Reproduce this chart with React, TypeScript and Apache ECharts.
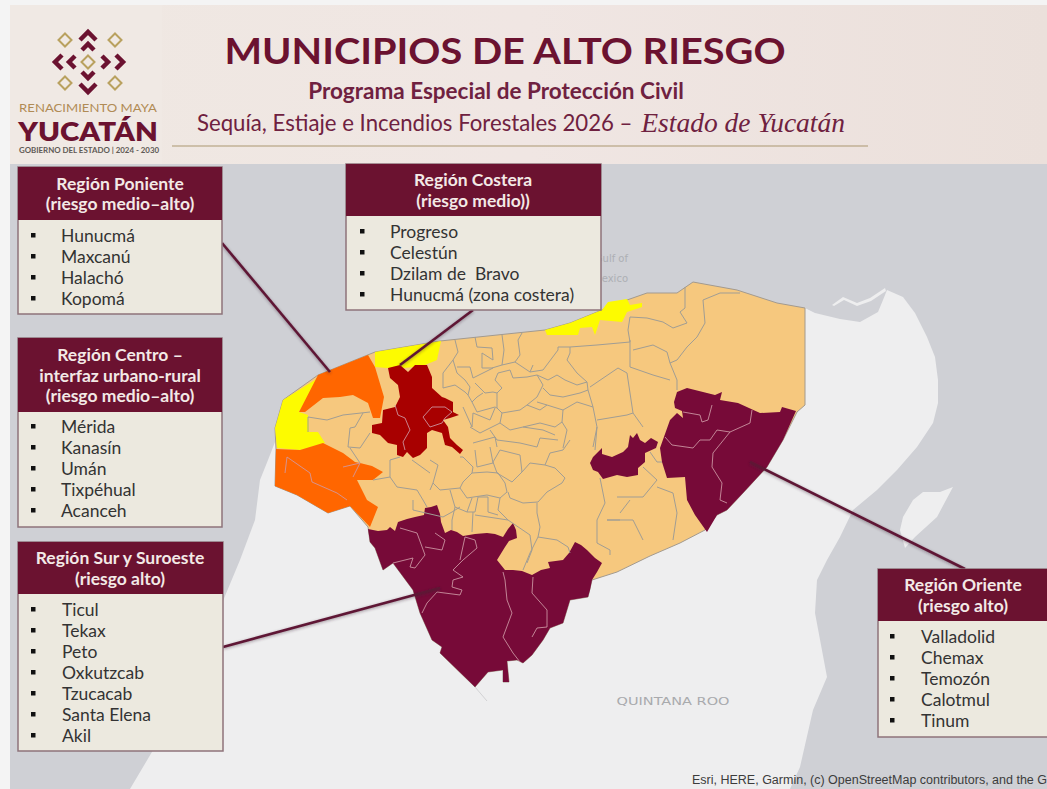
import React, { useEffect, useRef } from "react";
import * as echarts from "echarts";

type Pt = [number, number];

const waterShape: Pt[] = [[10,164],[1047,164],[1047,789],[10,789]];
const landShape: Pt[] = [[277,437],[268,460],[260,480],[255,520],[240,560],[215,620],[190,680],[165,730],[130,789],[790,789],[800,767],[813,710],[827,677],[815,613],[817,580],[827,560],[840,537],[853,510],[877,490],[897,470],[917,447],[933,423],[938,403],[938,380],[935,357],[927,337],[915,313],[903,297],[887,290],[883,300],[878,312],[860,322],[840,319],[815,313],[805,308],[640,420],[400,500]];
const spitShape: Pt[] = [[832,305],[843,297],[857,303],[870,298],[885,288],[886,291],[871,301],[857,306],[844,300],[834,306]];
const islandShape: Pt[] = [[900,530],[905,548],[915,537],[937,517],[953,487],[940,492],[923,492],[913,500],[903,517]];
const stateOutline: Pt[] = [[276,449],[275,486],[297,495],[328,513],[350,506],[368,527],[370,542],[375,548],[383,570],[393,563],[413,590],[420,613],[432,640],[442,647],[440,653],[475,687],[488,672],[503,670],[503,682],[509,682],[507,661],[517,660],[523,663],[532,655],[543,640],[550,628],[563,623],[570,600],[588,597],[592,580],[617,572],[650,556],[680,543],[705,530],[717,515],[727,510],[743,493],[767,467],[783,440],[797,412],[805,405],[805,308],[777,303],[737,290],[693,282],[677,293],[647,293],[627,300],[602,310],[570,323],[545,330],[440,341],[375,352],[318,375],[283,400],[275,428]];
const yellowWest: Pt[] = [[318,378],[299,412],[308,415],[309,432],[318,432],[325,443],[300,450],[277,448],[275,428],[283,400]];
const yellowNorth: Pt[] = [[375,352],[375,367],[387,368],[403,368],[415,367],[425,365],[437,360],[441,341]];
const yellowEast: Pt[] = [[545,330],[570,323],[602,310],[608,302],[627,299],[630,305],[642,303],[642,307],[627,312],[622,322],[600,320],[595,335],[592,327],[580,328],[578,335],[547,335]];
const orangeNorth: Pt[] = [[318,375],[368,355],[375,367],[384,397],[380,418],[373,418],[368,403],[353,395],[340,397],[323,398],[305,412],[299,412]];
const orangeSouth: Pt[] = [[276,449],[300,450],[323,443],[343,453],[355,462],[360,463],[372,466],[383,472],[373,480],[357,480],[367,500],[378,507],[370,527],[350,506],[328,513],[297,495],[275,486]];
const redCentre: Pt[] = [[388,368],[400,365],[408,372],[415,365],[427,365],[432,377],[432,388],[442,397],[445,398],[453,402],[453,412],[459,415],[450,418],[443,420],[448,427],[450,438],[457,445],[463,450],[460,454],[452,447],[445,445],[442,433],[432,430],[427,433],[427,448],[420,455],[413,458],[407,452],[403,457],[397,455],[397,445],[388,443],[380,435],[372,433],[372,425],[382,423],[383,410],[395,407],[400,397],[398,385],[390,378]];
const maroonEast: Pt[] = [[674,402],[677,392],[687,388],[703,392],[715,395],[722,392],[720,400],[738,403],[760,413],[780,412],[782,407],[796,411],[783,440],[767,467],[743,493],[727,510],[717,515],[707,532],[695,515],[687,500],[685,477],[667,478],[662,462],[660,448],[670,420],[677,413],[683,418],[682,411],[675,408]];
const maroonCentre: Pt[] = [[590,463],[593,457],[602,448],[602,454],[612,457],[623,452],[628,447],[630,435],[633,438],[637,433],[640,440],[645,443],[651,438],[658,442],[656,448],[645,453],[645,462],[638,468],[638,475],[627,477],[617,475],[603,479],[598,472],[593,470]];
const maroonSouth: Pt[] = [[368,529],[378,531],[387,530],[390,527],[395,531],[398,522],[407,519],[415,517],[424,515],[425,508],[431,507],[437,505],[440,514],[441,522],[445,533],[451,530],[457,532],[463,536],[475,534],[487,533],[495,534],[503,537],[508,529],[513,523],[516,530],[517,538],[509,541],[505,547],[497,560],[505,570],[513,570],[522,571],[532,575],[541,570],[550,568],[548,562],[563,560],[569,553],[575,542],[581,545],[587,550],[595,558],[602,563],[597,572],[592,580],[590,590],[588,597],[570,600],[563,623],[550,628],[543,640],[532,655],[523,663],[517,660],[507,661],[509,682],[503,682],[503,670],[488,672],[475,687],[440,653],[442,647],[432,640],[420,613],[413,590],[393,563],[383,570],[375,548],[370,542]];

const regionNames = ["Agua","Tierra","Barra","Cozumel","Yucatán","Costa poniente","Costa norte","Costa oriente","Poniente norte","Poniente sur","Centro","Oriente","Oriente interior","Sur"];
const regionShapes: Pt[][] = [waterShape,landShape,spitShape,islandShape,stateOutline,yellowWest,yellowNorth,yellowEast,orangeNorth,orangeSouth,redCentre,maroonEast,maroonCentre,maroonSouth];
const regionColors = ["#cfd0d5","#eeeeef","#eeeeef","#eeeeef","#f6c87e","#fdfb00","#fdfb00","#fdfb00","#ff6600","#ff6600","#a80000","#770a38","#770a38","#770a38"];

const municipalLines: Pt[][] = [
  [[630,317],[647,318],[663,322],[673,328],[687,323],[680,312],[685,308],[685,287]],
  [[703,300],[720,293],[740,293]],
  [[703,300],[705,323],[697,337],[687,347],[677,360],[670,363],[677,380],[677,390]],
  [[630,340],[630,367],[653,375],[670,380]],
  [[633,350],[653,345],[667,352],[670,363]],
  [[570,347],[597,345],[630,342]],
  [[630,317],[628,330],[630,342]],
  [[590,387],[618,368],[627,373],[630,393],[633,413],[643,427]],
  [[597,420],[627,415],[633,413]],
  [[597,427],[593,447]],
  [[617,497],[643,497],[657,480],[643,467]],
  [[657,487],[673,493],[677,513],[673,540]],
  [[607,520],[633,520],[643,540]],
  [[620,513],[630,500]],
  [[308,417],[327,420],[343,415],[370,412]],
  [[308,417],[308,432]],
  [[350,428],[348,447],[360,448],[370,433]],
  [[363,413],[355,427],[350,428]],
  [[400,457],[390,460],[390,477],[397,487],[417,490],[423,500],[427,507]],
  [[413,500],[413,510],[443,517],[452,512],[460,507]],
  [[373,480],[390,477]],
  [[350,448],[360,463]],
  [[650,452],[657,462],[662,462]],
  [[455,340],[458,352],[453,360],[457,373],[465,380],[470,387],[468,395],[472,402],[477,397],[483,393]],
  [[475,337],[477,347],[492,348],[493,360],[482,353],[482,368],[492,368],[502,365]],
  [[502,335],[504,350],[502,365],[515,362],[520,355],[518,340],[522,333]],
  [[515,362],[530,372],[533,365]],
  [[530,372],[543,370],[558,350],[558,347],[570,347],[570,353],[567,360],[577,373],[587,382],[588,390],[593,407],[597,427],[595,450]],
  [[498,373],[510,370],[513,378],[527,377],[537,375],[543,385],[537,397],[527,405],[520,410],[502,413],[497,408],[497,393],[502,388],[495,380],[498,373]],
  [[537,375],[548,380],[557,375],[565,380],[577,385],[587,382]],
  [[543,388],[550,395],[563,397],[580,393],[588,390]],
  [[537,402],[547,405],[563,410],[577,402],[593,407]],
  [[527,405],[540,410],[547,405]],
  [[563,410],[562,422],[567,430],[563,448]],
  [[500,423],[510,430],[523,427],[540,423],[555,427],[562,422]],
  [[502,413],[500,423]],
  [[443,373],[443,388],[455,385],[465,392],[468,395]],
  [[443,373],[453,360]],
  [[457,367],[470,367],[473,378],[493,368]],
  [[472,402],[477,412],[495,407],[497,408]],
  [[475,383],[485,393],[493,392],[497,393]],
  [[463,407],[472,427],[473,413],[490,420],[495,408]],
  [[470,427],[480,433],[492,427],[500,423]],
  [[490,430],[497,440],[520,443],[537,447],[540,438],[558,440]],
  [[523,427],[543,430],[555,435]],
  [[473,443],[495,437],[497,447]],
  [[430,460],[438,465],[433,483],[430,490]],
  [[463,457],[473,467],[472,473],[463,482],[460,488],[440,490],[433,483]],
  [[475,450],[477,467],[493,463],[490,447]],
  [[493,462],[497,473],[512,482],[522,472],[520,455],[500,450],[493,462]],
  [[460,488],[467,498],[487,495],[500,498],[507,492],[505,483],[498,473],[487,472],[472,473]],
  [[508,492],[510,498],[523,503],[538,502],[547,492],[562,483],[565,478],[555,468],[545,465]],
  [[522,472],[530,463],[545,465],[550,453],[563,450],[570,440]],
  [[537,503],[537,513],[540,527],[538,537],[530,553],[523,570]],
  [[538,537],[557,540],[568,547],[570,553]],
  [[500,498],[498,510],[508,520],[530,535],[532,550],[527,563]],
  [[450,490],[455,507],[452,520],[452,530]],
  [[455,507],[467,512],[472,498]],
  [[467,512],[475,512],[478,497],[488,497]],
  [[473,512],[472,532]],
  [[488,497],[488,512],[498,515]],
  [[475,515],[508,520]],
  [[600,478],[605,503],[597,520],[597,543],[610,550],[610,555]],
  [[607,520],[620,520]],
  [[412,460],[430,473]],
  [[460,457],[463,457]],
];
const faintLines: Pt[][] = [
  [[475,687],[487,701]],
];
const innerLines: Pt[][] = [
  [[393,563],[413,558],[410,567],[415,568],[425,555],[417,533],[400,528]],
  [[425,547],[442,550],[445,540],[435,533]],
  [[465,537],[475,540],[477,548],[463,560],[453,570],[463,577],[453,580],[452,587],[462,590],[460,595],[437,592],[427,603],[422,613]],
  [[465,537],[460,560]],
  [[503,572],[505,580],[507,600],[512,613],[503,637],[513,653],[520,662]],
  [[533,577],[532,593],[547,610],[547,627],[537,628],[532,637]],
  [[683,412],[700,415],[702,422],[708,420],[712,405]],
  [[752,410],[750,423],[730,432],[717,430],[710,440],[700,440],[693,448],[672,445],[665,437]],
  [[730,432],[713,453],[712,467],[722,483],[720,500],[727,503]],
  [[395,405],[398,415],[405,418],[410,430],[403,442],[405,450]],
  [[423,417],[432,407],[445,407],[452,412],[445,418],[442,423],[430,427],[423,417]],
  [[287,457],[310,473],[312,482],[337,493],[347,500]],
  [[287,457],[285,473]],
  [[343,467],[360,463],[353,477]],
];

const panelTitles: string[][] = [
  ["Región Poniente","(riesgo medio–alto)"],
  ["Región Costera","(riesgo medio))"],
  ["Región Centro –","interfaz urbano-rural","(riesgo medio–alto)"],
  ["Región Sur y Suroeste","(riesgo alto)"],
  ["Región Oriente","(riesgo alto)"],
];
const panelItems: string[][] = [
  ["Hunucmá","Maxcanú","Halachó","Kopomá"],
  ["Progreso","Celestún","Dzilam de  Bravo","Hunucmá (zona costera)"],
  ["Mérida","Kanasín","Umán","Tixpéhual","Acanceh"],
  ["Ticul","Tekax","Peto","Oxkutzcab","Tzucacab","Santa Elena","Akil"],
  ["Valladolid","Chemax","Temozón","Calotmul","Tinum"],
];
const panelBoxes = [
  { x: 18, y: 167, w: 204, head: 53, h: 147, tx: 120, bx: 33, ix: 61, y0: 235 },
  { x: 346, y: 164, w: 255, head: 52, h: 146, tx: 473, bx: 362, ix: 390, y0: 231 },
  { x: 18, y: 338, w: 204, head: 74, h: 189, tx: 120, bx: 33, ix: 61, y0: 426 },
  { x: 18, y: 542, w: 205, head: 52, h: 209, tx: 120, bx: 33, ix: 62, y0: 609 },
  { x: 878, y: 569, w: 175, head: 52, h: 168, tx: 963, bx: 892, ix: 921, y0: 636 },
];
const leaders: [number, number, number, number][] = [
  [222, 243, 330, 372],
  [473, 310, 400, 365],
  [220, 431, 390, 431],
  [223, 647, 440, 588],
  [750, 462, 965, 569],
];

const WINE = "#6b1230";
const LATO = "Lato, 'Noto Sans', sans-serif";

const geoJson = {
  type: "FeatureCollection",
  features: regionNames.map((name, i) => ({
    type: "Feature",
    properties: { name },
    geometry: { type: "Polygon", coordinates: [regionShapes[i].concat([regionShapes[i][0]]).map(([x, y]) => [x, -y])] },
  })),
};

function caret(cx: number, cy: number, dx: number, dy: number) {
  return {
    type: "polyline",
    z: 21,
    shape: { points: [[cx + dy + dx, cy + dx + dy], [cx, cy], [cx - dy + dx, cy - dx + dy]] },
    style: { stroke: WINE, lineWidth: 4.5, fill: "none" },
  };
}
function diamond(cx: number, cy: number, r: number) {
  return {
    type: "polygon",
    z: 21,
    shape: { points: [[cx, cy - r], [cx + r, cy], [cx, cy + r], [cx - r, cy]] },
    style: { stroke: "#b9a15f", lineWidth: 2, fill: "none" },
  };
}
function label(text: string, x: number, y: number, font: string, fill: string, textAlign = "center", z = 30, scaleX = 1) {
  return {
    type: "text", z, silent: true, x, y, scaleX,
    style: { text, x: 0, y: 0, font, fill, textAlign, textVerticalAlign: "middle" },
  };
}

function buildGraphics() {
  const els: any[] = [];
  els.push({
    type: "rect", z: 20, shape: { x: 10, y: 5, width: 1037, height: 159 },
    style: { fill: new echarts.graphic.LinearGradient(0, 0, 1, 0, [
      { offset: 0, color: "#efe8e2" }, { offset: 0.5, color: "#f0e6e3" }, { offset: 1, color: "#ebe0db" },
    ]) },
  });
  els.push({ type: "rect", z: 20, shape: { x: 10, y: 5, width: 152, height: 159 }, style: { fill: "#f0e9e4" } });
  els.push({ type: "line", z: 21, shape: { x1: 172, y1: 146, x2: 868, y2: 146 }, style: { stroke: "#ab9770", lineWidth: 1 } });
  [[65,40],[115,40],[88,62],[65,83],[115,83]].forEach(([x, y]) => els.push(diamond(x, y, 6.5)));
  els.push(caret(88, 32, 0, 8), caret(88, 44, 0, 6));
  els.push(caret(55, 62, 7, 0), caret(69, 62, 6, 0));
  els.push(caret(123, 62, -7, 0), caret(108, 62, -6, 0));
  els.push(caret(88, 78, 0, -6), caret(88, 92, 0, -8));
  els.push(label("RENACIMIENTO MAYA", 88, 108, `400 10.5px ${LATO}`, "#b08b55", "center", 30, 1.25));
  els.push(label("YUCATÁN", 88, 130, `800 27px ${LATO}`, WINE, "center", 30, 1.09));
  els.push(label("GOBIERNO DEL ESTADO | 2024 - 2030", 89, 151, `700 6.6px ${LATO}`, "#5f5a55", "center", 30, 1.2));

  els.push(label("MUNICIPIOS DE ALTO RIESGO", 505, 50, `700 36.5px ${LATO}`, WINE, "center", 30, 1.089));
  els.push(label("Programa Especial de Protección Civil", 496, 90, `700 22.5px ${LATO}`, "#6f2140"));
  els.push(label("Sequía, Estiaje e Incendios Forestales 2026 –", 197, 122, `400 22.2px ${LATO}`, "#6f2140", "left"));
  els.push(label("Estado de Yucatán", 845, 122, `italic 400 27.5px 'Liberation Serif', serif`, "#6f2140", "right"));

  els.push(label("Gulf of", 628, 258, `10px 'DejaVu Sans', sans-serif`, "#adafb4", "right", 5));
  els.push(label("Mexico", 628, 278, `10px 'DejaVu Sans', sans-serif`, "#adafb4", "right", 5));
  els.push(label("QUINTANA ROO", 673, 701, `10.5px 'DejaVu Sans', sans-serif`, "#a9aaad", "center", 5, 1.38));
  els.push(label("Esri, HERE, Garmin, (c) OpenStreetMap contributors, and the G", 1047, 780, `12.5px 'Liberation Sans', sans-serif`, "#3c3c3c", "right", 5));

  leaders.forEach(([x1, y1, x2, y2]) => {
    els.push({
      type: "line", z: 40, shape: { x1, y1, x2, y2 },
      style: { stroke: "#5e1735", lineWidth: 2.6, shadowBlur: 3, shadowColor: "rgba(60,40,50,0.45)", shadowOffsetY: 1 },
    });
  });

  panelBoxes.forEach((b, i) => {
    els.push({
      type: "rect", z: 50, shape: { x: b.x, y: b.y, width: b.w, height: b.h },
      style: { fill: "#ece9df", stroke: "#8e737b", lineWidth: 1.5 },
    });
    els.push({ type: "rect", z: 51, shape: { x: b.x, y: b.y, width: b.w, height: b.head }, style: { fill: WINE } });
    const titles = panelTitles[i];
    const headMid = b.y + b.head / 2;
    titles.forEach((t, k) => {
      els.push(label(t, b.tx, headMid + (k - (titles.length - 1) / 2) * 20.5, `700 17.5px ${LATO}`, "#f3e9e6", "center", 52));
    });
    panelItems[i].forEach((t, k) => {
      const y = b.y0 + k * 21;
      els.push({ type: "rect", z: 52, shape: { x: b.bx - 2, y: y - 2, width: 4.5, height: 4.5 }, style: { fill: "#111" } });
      els.push(label(t, b.ix, y, `400 17.5px ${LATO}`, "#333333", "left", 52));
    });
  });
  return els;
}

export default function App() {
  const ref = useRef<HTMLDivElement>(null);
  useEffect(() => {
    document.body.style.margin = "0";
    echarts.registerMap("yucatan", geoJson as any);
    const chart = echarts.init(ref.current!, undefined, { renderer: "svg" });
    const toCoords = (l: Pt[]) => ({ coords: l.map(([x, y]) => [x, -y]) });
    const lineSeries = (data: Pt[][], color: string, opacity: number, z: number) => ({
      type: "lines",
      coordinateSystem: "geo",
      polyline: true,
      silent: true,
      z,
      lineStyle: { color, width: 1, opacity },
      data: data.map(toCoords),
    });
    chart.setOption({
      animation: false,
      backgroundColor: "#f4f4f4",
      tooltip: { show: false },
      geo: {
        map: "yucatan",
        roam: false,
        silent: true,
        aspectScale: 1,
        boundingCoords: [[0, 0], [1047, -789]],
        left: 0,
        top: 0,
        width: 1047,
        height: 789,
        label: { show: false },
        itemStyle: { borderWidth: 0 },
        regions: regionNames.map((name, i) => ({
          name,
          itemStyle: {
            areaColor: regionColors[i],
            borderWidth: name === "Yucatán" ? 1 : 0,
            borderColor: name === "Yucatán" ? "#a39a8e" : "transparent",
          },
        })),
      },
      series: [
        lineSeries(municipalLines, "#a09d94", 1, 3),
        lineSeries(faintLines, "#d2d2d4", 1, 3),
        lineSeries(innerLines, "#cf9aa6", 0.85, 4),
      ],
      graphic: { elements: buildGraphics() },
    });
    return () => chart.dispose();
  }, []);
  return <div ref={ref} style={{ width: 1047, height: 789 }} />;
}
